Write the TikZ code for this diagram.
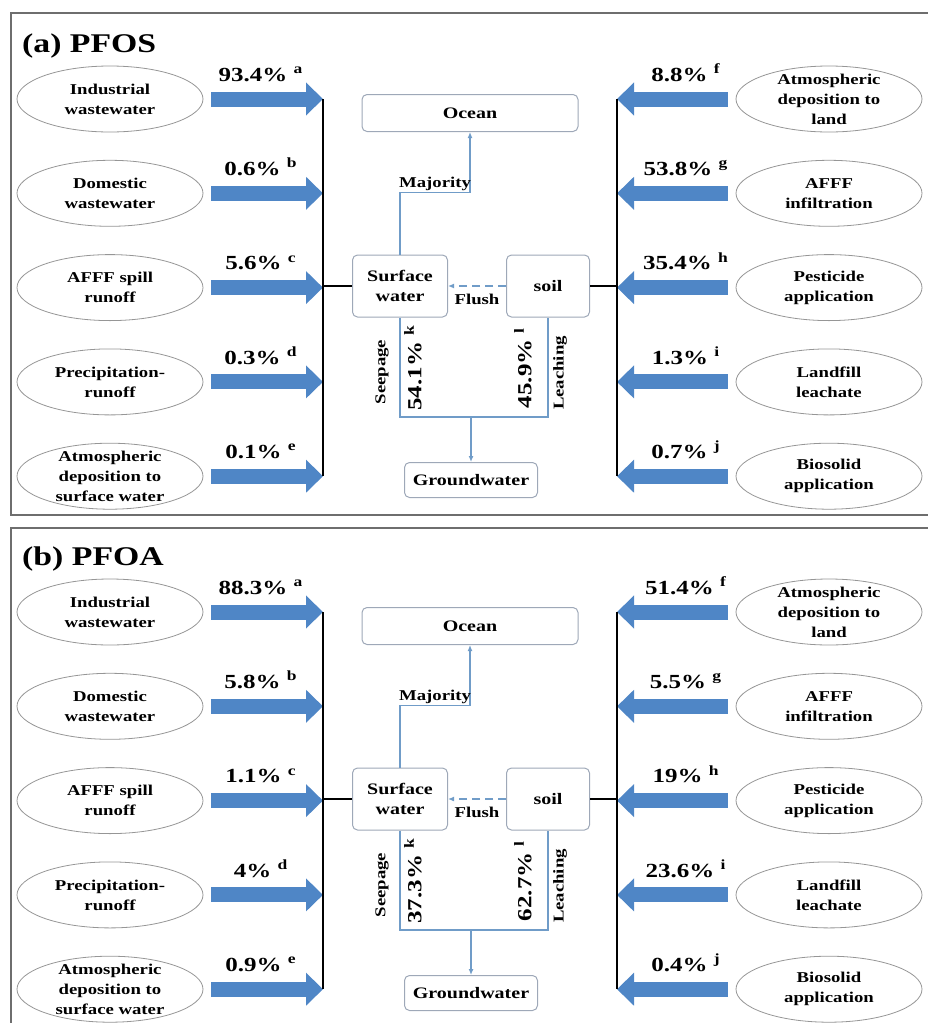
\documentclass[tikz,border=0pt]{standalone}
\usepackage{fontspec}
\setmainfont{Liberation Serif}[FakeStretch=1.25]
\usepackage{tikz}
\usetikzlibrary{shapes,arrows.meta}
\usetikzlibrary{positioning}
\definecolor{flowblue}{RGB}{79,134,198}
\definecolor{linkblue}{RGB}{112,156,200}
\definecolor{srcgray}{RGB}{150,150,150}
\definecolor{boxgray}{RGB}{158,168,184}
\definecolor{panelgray}{RGB}{110,110,110}
\tikzset{>={Latex[length=6pt,width=5pt]}, node distance=27.5pt, font=\bfseries\fontsize{15}{20}\selectfont}
\tikzstyle{source} = [draw=srcgray, fill=white, ellipse, line width=0.8pt, minimum width=186pt, minimum height=66pt, inner xsep=0pt, inner ysep=-6pt, align=center]
\tikzstyle{box} = [draw=boxgray, fill=white, rectangle, rounded corners=5pt, line width=1pt, inner sep=0pt, align=center, font=\bfseries\fontsize{16}{20}\selectfont]
\tikzstyle{flow} = [flowblue, line width=15pt, -{Triangle[length=17pt,width=32pt]}, shorten <=8pt]
\tikzstyle{pct} = [text=black, font=\bfseries\fontsize{20}{20}\selectfont, inner sep=2pt]
\tikzstyle{note} = [text=black, font=\bfseries\fontsize{15}{15}\selectfont, inner sep=1pt]
\tikzstyle{link} = [linkblue, line width=1.5pt]
\tikzstyle{bus} = [draw, line width=2pt]
\tikzstyle{panel} = [draw=panelgray, line width=2pt]
\tikzstyle{heading} = [font=\bfseries\fontsize{27}{27}\selectfont, anchor=base west, inner sep=0pt]

\begin{document}
\begin{tikzpicture}[x=1pt, y=-1pt]
    \useasboundingbox (0,0) rectangle (927,1023);

    % (a) PFOS
    \draw [panel] (928,13) -- (11,13) -- (11,515) -- (928,515);
    \node [heading] (a_head) at (22,52) {(a) PFOS};

    \node [source] (a_ind) at (110,99) {Industrial\\wastewater};
    \node [source, below=of a_ind] (a_dom) {Domestic\\wastewater};
    \node [source, below=of a_dom] (a_spill) {AFFF spill\\runoff};
    \node [source, below=of a_spill] (a_prec) {Precipitation-\\runoff};
    \node [source, below=of a_prec] (a_atmw) {Atmospheric\\deposition to\\surface water};

    \node [source] (a_atml) at (829,99) {Atmospheric\\deposition to\\land};
    \node [source, below=of a_atml] (a_inf) {AFFF\\infiltration};
    \node [source, below=of a_inf] (a_pest) {Pesticide\\application};
    \node [source, below=of a_pest] (a_land) {Landfill\\leachate};
    \node [source, below=of a_land] (a_bio) {Biosolid\\application};

    \coordinate (a_busL) at (323,99);
    \coordinate (a_busR) at (617,99);

    \node [box, minimum width=216pt, minimum height=37pt] (a_oc) at (470,113) {Ocean};
    \node [box, minimum width=95pt, minimum height=62pt] (a_sw) at (400,286) {Surface\\water};
    \node [box, minimum width=83pt, minimum height=62pt, right=58pt of a_sw] (a_so) {soil};
    \node [box, minimum width=133pt, minimum height=35pt] (a_gw) at (471,480) {Groundwater};
    \coordinate (a_join) at (471,417);

    \draw [flow] (a_ind) -- node [pct, above=8pt, pos=.48] {93.4\% \textsuperscript{a}} (a_ind -| a_busL);
    \draw [flow] (a_dom) -- node [pct, above=8pt, pos=.48] {0.6\% \textsuperscript{b}} (a_dom -| a_busL);
    \draw [flow] (a_spill) -- node [pct, above=8pt, pos=.48] {5.6\% \textsuperscript{c}} (a_spill -| a_busL);
    \draw [flow] (a_prec) -- node [pct, above=8pt, pos=.48] {0.3\% \textsuperscript{d}} (a_prec -| a_busL);
    \draw [flow] (a_atmw) -- node [pct, above=8pt, pos=.48] {0.1\% \textsuperscript{e}} (a_atmw -| a_busL);
    \draw [flow] (a_atml) -- node [pct, above=8pt, pos=.42] {8.8\% \textsuperscript{f}} (a_atml -| a_busR);
    \draw [flow] (a_inf) -- node [pct, above=8pt, pos=.42] {53.8\% \textsuperscript{g}} (a_inf -| a_busR);
    \draw [flow] (a_pest) -- node [pct, above=8pt, pos=.42] {35.4\% \textsuperscript{h}} (a_pest -| a_busR);
    \draw [flow] (a_land) -- node [pct, above=8pt, pos=.42] {1.3\% \textsuperscript{i}} (a_land -| a_busR);
    \draw [flow] (a_bio) -- node [pct, above=8pt, pos=.42] {0.7\% \textsuperscript{j}} (a_bio -| a_busR);

    \draw [bus] (a_busL) -- (a_busL |- a_atmw);
    \draw [bus] (a_busL |- a_sw) -- (a_sw);
    \draw [bus] (a_busR) -- (a_busR |- a_bio);
    \draw [bus] (a_so) -- (a_busR |- a_so);

    \draw [link, ->] (a_sw.north) -- ++(0,-62) -| node [note, pos=.25, above] {Majority} (a_oc.south);
    \draw [link, dash pattern=on 8pt off 5pt, ->] (a_so) -- node [note, below=6pt] {Flush} (a_sw);
    \draw [link] (a_sw.south) |- (a_join) -| (a_so.south);
    \draw [link, ->] (a_join) -- (a_gw);
    \node [note, rotate=90] (a_seep) at (382,372) {Seepage};
    \node [pct, rotate=90] (a_k) at (413,368) {54.1\% \textsuperscript{k}};
    \node [pct, rotate=90] (a_l) at (523,368) {45.9\% \textsuperscript{l}};
    \node [note, rotate=90] (a_leach) at (560,373) {Leaching};

    % (b) PFOA
    \begin{scope}[shift={(0,513)}]
    \draw [panel] (928,15) -- (11,15) -- (11,511);
    \node [heading] (b_head) at (22,52) {(b) PFOA};

    \node [source] (b_ind) at (110,99) {Industrial\\wastewater};
    \node [source, below=of b_ind] (b_dom) {Domestic\\wastewater};
    \node [source, below=of b_dom] (b_spill) {AFFF spill\\runoff};
    \node [source, below=of b_spill] (b_prec) {Precipitation-\\runoff};
    \node [source, below=of b_prec] (b_atmw) {Atmospheric\\deposition to\\surface water};

    \node [source] (b_atml) at (829,99) {Atmospheric\\deposition to\\land};
    \node [source, below=of b_atml] (b_inf) {AFFF\\infiltration};
    \node [source, below=of b_inf] (b_pest) {Pesticide\\application};
    \node [source, below=of b_pest] (b_land) {Landfill\\leachate};
    \node [source, below=of b_land] (b_bio) {Biosolid\\application};

    \coordinate (b_busL) at (323,99);
    \coordinate (b_busR) at (617,99);

    \node [box, minimum width=216pt, minimum height=37pt] (b_oc) at (470,113) {Ocean};
    \node [box, minimum width=95pt, minimum height=62pt] (b_sw) at (400,286) {Surface\\water};
    \node [box, minimum width=83pt, minimum height=62pt, right=58pt of b_sw] (b_so) {soil};
    \node [box, minimum width=133pt, minimum height=35pt] (b_gw) at (471,480) {Groundwater};
    \coordinate (b_join) at (471,417);

    \draw [flow] (b_ind) -- node [pct, above=8pt, pos=.48] {88.3\% \textsuperscript{a}} (b_ind -| b_busL);
    \draw [flow] (b_dom) -- node [pct, above=8pt, pos=.48] {5.8\% \textsuperscript{b}} (b_dom -| b_busL);
    \draw [flow] (b_spill) -- node [pct, above=8pt, pos=.48] {1.1\% \textsuperscript{c}} (b_spill -| b_busL);
    \draw [flow] (b_prec) -- node [pct, above=8pt, pos=.48] {4\% \textsuperscript{d}} (b_prec -| b_busL);
    \draw [flow] (b_atmw) -- node [pct, above=8pt, pos=.48] {0.9\% \textsuperscript{e}} (b_atmw -| b_busL);
    \draw [flow] (b_atml) -- node [pct, above=8pt, pos=.42] {51.4\% \textsuperscript{f}} (b_atml -| b_busR);
    \draw [flow] (b_inf) -- node [pct, above=8pt, pos=.42] {5.5\% \textsuperscript{g}} (b_inf -| b_busR);
    \draw [flow] (b_pest) -- node [pct, above=8pt, pos=.42] {19\% \textsuperscript{h}} (b_pest -| b_busR);
    \draw [flow] (b_land) -- node [pct, above=8pt, pos=.42] {23.6\% \textsuperscript{i}} (b_land -| b_busR);
    \draw [flow] (b_bio) -- node [pct, above=8pt, pos=.42] {0.4\% \textsuperscript{j}} (b_bio -| b_busR);

    \draw [bus] (b_busL) -- (b_busL |- b_atmw);
    \draw [bus] (b_busL |- b_sw) -- (b_sw);
    \draw [bus] (b_busR) -- (b_busR |- b_bio);
    \draw [bus] (b_so) -- (b_busR |- b_so);

    \draw [link, ->] (b_sw.north) -- ++(0,-62) -| node [note, pos=.25, above] {Majority} (b_oc.south);
    \draw [link, dash pattern=on 8pt off 5pt, ->] (b_so) -- node [note, below=6pt] {Flush} (b_sw);
    \draw [link] (b_sw.south) |- (b_join) -| (b_so.south);
    \draw [link, ->] (b_join) -- (b_gw);
    \node [note, rotate=90] (b_seep) at (382,372) {Seepage};
    \node [pct, rotate=90] (b_k) at (413,368) {37.3\% \textsuperscript{k}};
    \node [pct, rotate=90] (b_l) at (523,368) {62.7\% \textsuperscript{l}};
    \node [note, rotate=90] (b_leach) at (560,373) {Leaching};
    \end{scope}
\end{tikzpicture}
\end{document}
